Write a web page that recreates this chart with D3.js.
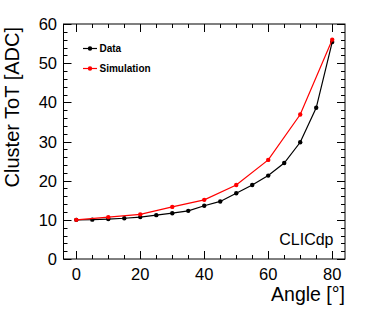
<!DOCTYPE html>
<html>
<head>
<meta charset="utf-8">
<script src="https://cdn.jsdelivr.net/npm/d3@7"></script>
<style>
  body { margin: 0; background: #fff; }
  text { font-family: "Liberation Sans", Arial, Helvetica, sans-serif; }
</style>
</head>
<body>
<div id="chart"></div>
<script>
// Data
const dataAngles = [0, 5, 10, 15, 20, 25, 30, 35, 40, 45, 50, 55, 60, 65, 70, 75, 80];
const dataToT = [10.0, 10.05, 10.2, 10.4, 10.7, 11.2, 11.7, 12.3, 13.6, 14.7, 16.8, 18.9, 21.3, 24.5, 29.8, 38.6, 55.4];
const simAngles = [0, 10, 20, 30, 40, 50, 60, 70, 80];
const simToT = [10.0, 10.7, 11.4, 13.3, 15.1, 18.9, 25.3, 36.9, 56.0];
const xTicks = [0, 20, 40, 60, 80];
const yTicks = [0, 10, 20, 30, 40, 50, 60];

const config = {
    width: 374,
    height: 316,
    frame: { left: 63.5, right: 345, top: 24, bottom: 259 },
    majorTick: 8,
    minorTick: 4
};

const f = config.frame;
const svg = d3.select("#chart").append("svg")
    .attr("width", config.width)
    .attr("height", config.height);

const x = d3.scaleLinear().domain([-4, 84]).range([f.left, f.right]);
const y = d3.scaleLinear().domain([0, 60]).range([f.bottom, f.top]);

// Ticks (inside, on all four sides)
const xMinor = d3.range(0, 85, 5);
const yMinor = d3.range(0, 61, 2);
const tickG = svg.append("g").attr("stroke", "#000").attr("stroke-width", 1);

xMinor.forEach(v => {
    const len = v % 20 === 0 ? config.majorTick : config.minorTick;
    const px = Math.round(x(v)) + 0.5;
    tickG.append("line").attr("x1", px).attr("x2", px).attr("y1", f.bottom).attr("y2", f.bottom - len);
    tickG.append("line").attr("x1", px).attr("x2", px).attr("y1", f.top).attr("y2", f.top + len);
});
yMinor.forEach(v => {
    const len = v % 10 === 0 ? config.majorTick : config.minorTick;
    const py = Math.round(y(v)) + 0.5;
    tickG.append("line").attr("x1", f.left).attr("x2", f.left + len).attr("y1", py).attr("y2", py);
    tickG.append("line").attr("x1", f.right).attr("x2", f.right - len).attr("y1", py).attr("y2", py);
});

// Frame
svg.append("rect")
    .attr("x", f.left).attr("y", f.top)
    .attr("width", f.right - f.left).attr("height", f.bottom - f.top)
    .attr("fill", "none").attr("stroke", "#000").attr("stroke-width", 1);

// Tick labels
svg.selectAll(".xlab").data(xTicks).enter().append("text")
    .attr("x", d => x(d))
    .attr("y", 279.5)
    .attr("text-anchor", "middle")
    .style("font-size", "16.5px")
    .text(d => d);

svg.selectAll(".ylab").data(yTicks).enter().append("text")
    .attr("x", 57)
    .attr("y", d => y(d) + 6)
    .attr("text-anchor", "end")
    .style("font-size", "16.5px")
    .text(d => d);

// Axis titles
svg.append("text")
    .attr("x", f.right)
    .attr("y", 300.5)
    .attr("text-anchor", "end")
    .style("font-size", "19.5px")
    .text("Angle [°]");

svg.append("text")
    .attr("transform", `translate(19,${f.top + 3}) rotate(-90)`)
    .attr("text-anchor", "end")
    .style("font-size", "20px")
    .text("Cluster ToT [ADC]");

// Series
const line = d3.line().x(d => x(d[0])).y(d => y(d[1]));
const series = [
    { name: "Data", color: "#000", pts: dataAngles.map((a, i) => [a, dataToT[i]]) },
    { name: "Simulation", color: "#ff0000", pts: simAngles.map((a, i) => [a, simToT[i]]) }
];

series.forEach(s => {
    svg.append("path")
        .datum(s.pts)
        .attr("d", line)
        .attr("fill", "none")
        .attr("stroke", s.color)
        .attr("stroke-width", 1.2);
    svg.selectAll(null).data(s.pts).enter().append("circle")
        .attr("cx", d => x(d[0]))
        .attr("cy", d => y(d[1]))
        .attr("r", 2.2)
        .attr("fill", s.color);
});

// Legend
series.forEach((s, i) => {
    const ly = 48.5 + i * 20;
    svg.append("line")
        .attr("x1", 83).attr("x2", 97)
        .attr("y1", ly).attr("y2", ly)
        .attr("stroke", s.color).attr("stroke-width", 1.2);
    svg.append("circle").attr("cx", 90).attr("cy", ly).attr("r", 2.2).attr("fill", s.color);
    svg.append("text")
        .attr("x", 99.5)
        .attr("y", ly + 3.5)
        .style("font-size", "10px")
        .style("font-weight", "bold")
        .text(s.name);
});

// Label
svg.append("text")
    .attr("x", 333.5)
    .attr("y", 245)
    .attr("text-anchor", "end")
    .style("font-size", "16px")
    .text("CLICdp");
</script>
</body>
</html>
